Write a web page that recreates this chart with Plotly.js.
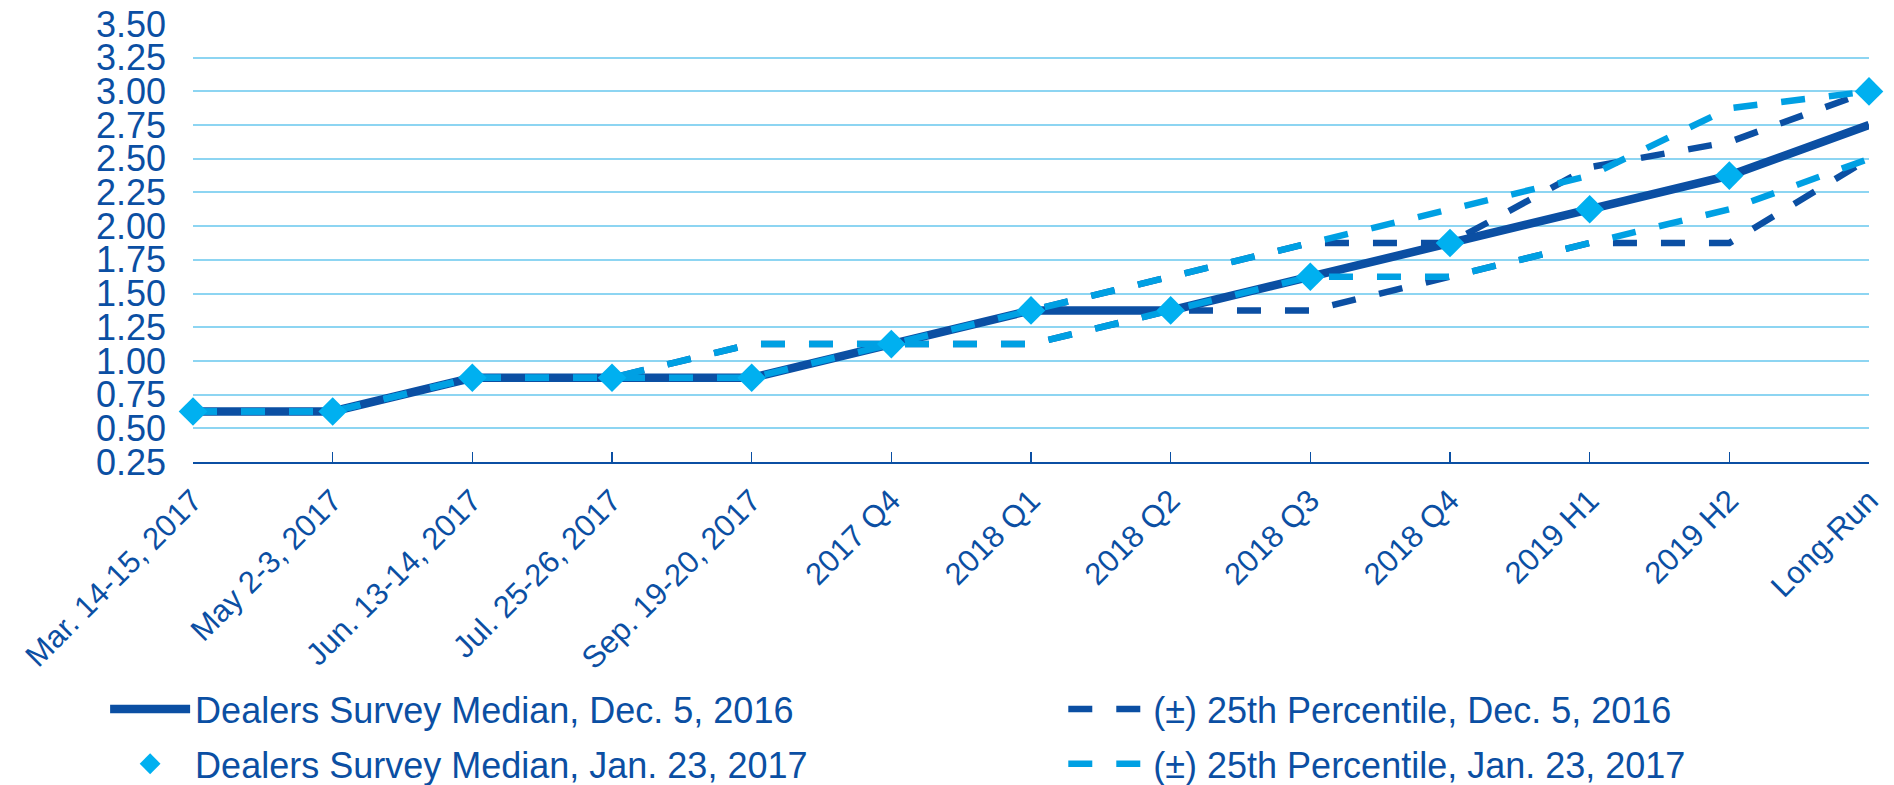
<!DOCTYPE html>
<html>
<head>
<meta charset="utf-8">
<script src="https://cdn.plot.ly/plotly-3.0.1.min.js"></script>
<style>
  html, body { margin: 0; padding: 0; background: #ffffff; }
  #chart { width: 1894px; height: 785px; }
</style>
</head>
<body>
<div id="chart"></div>
<script>
const categories = [
  "Mar. 14-15, 2017", "May 2-3, 2017", "Jun. 13-14, 2017", "Jul. 25-26, 2017",
  "Sep. 19-20, 2017", "2017 Q4", "2018 Q1", "2018 Q2", "2018 Q3", "2018 Q4",
  "2019 H1", "2019 H2", "Long-Run"
];
const medianDec = [0.625, 0.625, 0.875, 0.875, 0.875, 1.125, 1.375, 1.375, 1.625, 1.875, 2.125, 2.375, 2.75];
const upperDec  = [0.625, 0.625, 0.875, 0.875, 1.125, 1.125, 1.375, 1.625, 1.875, 1.875, 2.4375, 2.625, 3.00];
const lowerDec  = [0.625, 0.625, 0.875, 0.875, 0.875, 1.125, 1.125, 1.375, 1.375, 1.625, 1.875, 1.875, 2.50];
const medianJan = [0.625, 0.625, 0.875, 0.875, 0.875, 1.125, 1.375, 1.375, 1.625, 1.875, 2.125, 2.375, 3.00];
const upperJan  = [0.625, 0.625, 0.875, 0.875, 1.125, 1.125, 1.375, 1.625, 1.875, 2.125, 2.375, 2.875, 3.00];
const lowerJan  = [0.625, 0.625, 0.875, 0.875, 0.875, 1.125, 1.125, 1.375, 1.625, 1.625, 1.875, 2.125, 2.50];

const DARK = "rgb(11,79,163)";
const LIGHT = "rgb(0,160,227)";
const CYAN = "rgb(0,176,240)";
const GRID = "rgb(141,213,242)";
const TEXT = "rgb(11,79,163)";
const FONT = "Liberation Sans, Arial, sans-serif";
const DASH = "24px,24px";

const traces = [
  { x: categories, y: upperDec, mode: "lines", name: "(±) 25th Percentile, Dec. 5, 2016",
    legend: "legend2", legendgroup: "g1",
    line: { color: DARK, width: 6.5, dash: DASH }, cliponaxis: false },
  { x: categories, y: lowerDec, mode: "lines", showlegend: false,
    line: { color: DARK, width: 6.5, dash: DASH }, cliponaxis: false },
  { x: categories, y: medianDec, mode: "lines", name: "Dealers Survey Median, Dec. 5, 2016",
    legend: "legend", legendgroup: "g1",
    line: { color: DARK, width: 8.5 }, cliponaxis: false },
  { x: categories, y: upperJan, mode: "lines", name: "(±) 25th Percentile, Jan. 23, 2017",
    legend: "legend2", legendgroup: "g2",
    line: { color: LIGHT, width: 6.5, dash: DASH }, cliponaxis: false },
  { x: categories, y: lowerJan, mode: "lines", showlegend: false,
    line: { color: LIGHT, width: 6.5, dash: DASH }, cliponaxis: false },
  { x: categories, y: medianJan, mode: "markers", name: "Dealers Survey Median, Jan. 23, 2017",
    legend: "legend", legendgroup: "g2",
    marker: { symbol: "diamond", size: 22, color: CYAN }, cliponaxis: false }
];

const legendCommon = {
  orientation: "v", xref: "container", yref: "container",
  xanchor: "left", yanchor: "top", y: 0.135,
  traceorder: "grouped", tracegroupgap: 5, itemwidth: 80,
  font: { family: FONT, color: TEXT, size: 36 }, bgcolor: "rgba(0,0,0,0)",
  groupclick: "toggleitem"
};

const layout = {
  width: 1894, height: 785,
  margin: { l: 193, r: 25, t: 24, b: 323, autoexpand: false },
  paper_bgcolor: "#ffffff", plot_bgcolor: "#ffffff",
  font: { family: FONT, color: TEXT, size: 36 },
  showlegend: true,
  xaxis: {
    type: "category", range: [0, 12], showgrid: false, zeroline: false,
    showline: true, linecolor: DARK, linewidth: 2,
    ticks: "inside", ticklen: 10, tickwidth: 1.5, tickcolor: DARK,
    tickangle: -45, ticklabelstandoff: 6,
    tickfont: { family: FONT, color: TEXT, size: 31 },
    automargin: false, fixedrange: true
  },
  yaxis: {
    range: [0.25, 3.5], tick0: 0.25, dtick: 0.25, tickformat: ".2f",
    showgrid: true, gridcolor: GRID, gridwidth: 2, zeroline: false,
    showline: false, ticks: "", ticklabelstandoff: 26,
    tickfont: { family: FONT, color: TEXT, size: 36 },
    automargin: false, fixedrange: true
  },
  legend: Object.assign({}, legendCommon, { x: 0.0555 }),
  legend2: Object.assign({}, legendCommon, { x: 0.5614 })
};

Plotly.newPlot("chart", traces, layout, { displayModeBar: false, staticPlot: true });
</script>
</body>
</html>
